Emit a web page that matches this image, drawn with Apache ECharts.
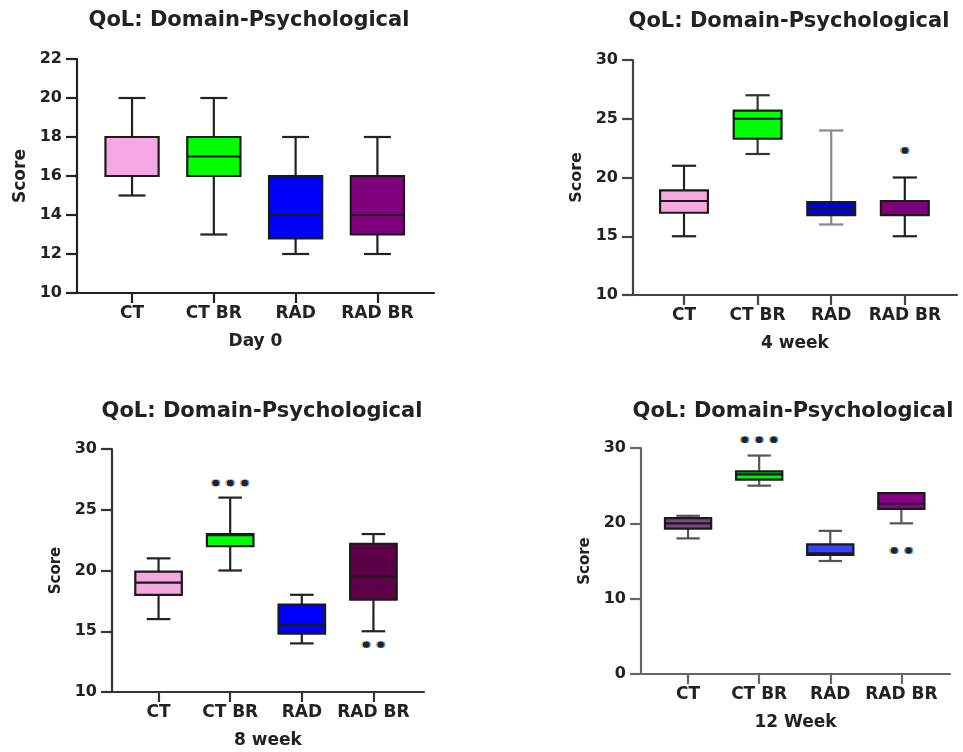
<!DOCTYPE html>
<html>
<head>
<meta charset="utf-8">
<script src="https://cdn.jsdelivr.net/npm/echarts@6/dist/echarts.min.js"></script>
<style>
  html, body { margin: 0; padding: 0; background: #fff; }
  #chart { width: 963px; height: 752px; }
</style>
</head>
<body>
<div id="chart"></div>
<script>
// Groups shown on every panel
const categories = ['CT', 'CT BR', 'RAD', 'RAD BR'];
const panelTitle = 'QoL: Domain-Psychological';
const timeLabels = ['Day 0', '4 week', '8 week', '12 Week'];

// Box summaries per group: [min, Q1, median, Q3, max]
const day0Boxes   = [[15, 16, 18, 18, 20], [13, 16, 17, 18, 20], [12, 12.8, 14, 16, 18], [12, 13, 14, 16, 18]];
const week4Boxes  = [[15, 17, 18, 18.9, 21], [22, 23.3, 25, 25.7, 27], [16, 16.8, 17.4, 17.9, 24], [15, 16.8, 18, 18, 20]];
const week8Boxes  = [[16, 18, 19, 19.9, 21], [20, 22, 22.9, 23, 26], [14, 14.8, 15.5, 17.2, 18], [15, 17.6, 19.5, 22.2, 23]];
const week12Boxes = [[18, 19.3, 20, 20.7, 21], [25, 25.8, 26.5, 26.9, 29], [15, 15.8, 16, 17.2, 19], [20, 21.9, 22.6, 24, 24]];

// Significance marks: [group index, score, number of dots]
const day0Marks   = [];
const week4Marks  = [[3, 22.3, 1]];
const week8Marks  = [[1, 27.2, 3], [3, 13.9, 2]];
const week12Marks = [[1, 31.1, 3], [3, 16.4, 2]];

// Score axis ranges: [min, max, interval]
const day0Range   = [10, 22, 2];
const week4Range  = [10, 30, 5];
const week8Range  = [10, 30, 5];
const week12Range = [0, 30, 10];

const FONT = 'DejaVu Sans';
const TEXT = '#222';

const panels = [
  {
    boxes: day0Boxes, marks: day0Marks, range: day0Range, name: timeLabels[0],
    grid: { left: 77, top: 59, width: 357, height: 234 },
    xMin: -0.673, xMax: 3.692,
    fills: ['#f5a8e4', '#00ff00', '#0000ff', '#800080'],
    whisker: ['#222', '#222', '#222', '#222'],
    axisColor: '#222', scoreSize: 17,
    title: [249, 21]
  },
  {
    boxes: week4Boxes, marks: week4Marks, range: week4Range, name: timeLabels[1],
    grid: { left: 633, top: 60, width: 324, height: 235 },
    xMin: -0.693, xMax: 3.709,
    fills: ['#f7a9e0', '#00ff00', '#0000ee', '#800078'],
    whisker: ['#222', '#333', '#888', '#222'],
    axisColor: '#444', scoreSize: 16,
    title: [789, 22]
  },
  {
    boxes: week8Boxes, marks: week8Marks, range: week8Range, name: timeLabels[2],
    grid: { left: 112, top: 449, width: 312, height: 243 },
    xMin: -0.65, xMax: 3.706,
    fills: ['#f5a8e0', '#00ff00', '#0000ff', '#5e0048'],
    whisker: ['#222', '#222', '#222', '#222'],
    axisColor: '#333', scoreSize: 15,
    title: [262, 412]
  },
  {
    boxes: week12Boxes, marks: week12Marks, range: week12Range, name: timeLabels[3],
    grid: { left: 641, top: 448, width: 309, height: 226 },
    xMin: -0.662, xMax: 3.684,
    fills: ['#784689', '#00ee00', '#3444ff', '#8a008a'],
    whisker: ['#555', '#555', '#555', '#555'],
    axisColor: '#666', scoreSize: 15,
    title: [793, 412]
  }
];

const BOX_W = 0.65;   // box width in group units
const CAP_W = 0.33;   // whisker cap width in group units

function boxRenderer(panel) {
  return function (params, api) {
    const x = api.value(0);
    const i = params.dataIndex;
    const pMin = api.coord([x, api.value(1)]);
    const pQ1 = api.coord([x, api.value(2)]);
    const pMed = api.coord([x, api.value(3)]);
    const pQ3 = api.coord([x, api.value(4)]);
    const pMax = api.coord([x, api.value(5)]);
    const half = api.size([BOX_W, 0])[0] / 2;
    const capHalf = api.size([CAP_W, 0])[0] / 2;
    const cx = pMed[0];
    const wStyle = { stroke: panel.whisker[i], lineWidth: 2.2, fill: null };
    return {
      type: 'group',
      children: [
        { type: 'line', shape: { x1: cx, y1: pMax[1], x2: cx, y2: pQ3[1] }, style: wStyle },
        { type: 'line', shape: { x1: cx, y1: pQ1[1], x2: cx, y2: pMin[1] }, style: wStyle },
        { type: 'line', shape: { x1: cx - capHalf, y1: pMax[1], x2: cx + capHalf, y2: pMax[1] }, style: wStyle },
        { type: 'line', shape: { x1: cx - capHalf, y1: pMin[1], x2: cx + capHalf, y2: pMin[1] }, style: wStyle },
        {
          type: 'rect',
          shape: { x: cx - half, y: pQ3[1], width: half * 2, height: pQ1[1] - pQ3[1] },
          style: { fill: panel.fills[i], stroke: '#1a1a1a', lineWidth: 2.2 }
        },
        { type: 'line', shape: { x1: cx - half, y1: pMed[1], x2: cx + half, y2: pMed[1] },
          style: { stroke: '#1a1a1a', lineWidth: 2.2 } }
      ]
    };
  };
}

function markRenderer(params, api) {
  const p = api.coord([api.value(0), api.value(1)]);
  const n = api.value(2);
  const gap = 14.5;
  const children = [];
  for (let k = 0; k < n; k++) {
    const cx = p[0] + (k - (n - 1) / 2) * gap;
    children.push(
      { type: 'circle', shape: { cx: cx - 1.3, cy: p[1], r: 3.4 }, style: { fill: '#f0a040' } },
      { type: 'circle', shape: { cx: cx + 1.3, cy: p[1], r: 3.4 }, style: { fill: '#4a9be8' } },
      { type: 'circle', shape: { cx: cx, cy: p[1], r: 3.2 }, style: { fill: '#16223f' } }
    );
  }
  return { type: 'group', children: children };
}

const option = {
  animation: false,
  backgroundColor: '#fff',
  textStyle: { fontFamily: FONT },
  grid: [], xAxis: [], yAxis: [], series: [],
  graphic: []
};

panels.forEach(function (panel, idx) {
  option.grid.push(Object.assign({ containLabel: false }, panel.grid));
  option.xAxis.push({
    type: 'value', gridIndex: idx, min: panel.xMin, max: panel.xMax,
    name: panel.name, nameLocation: 'middle', nameGap: 40,
    nameTextStyle: { fontFamily: FONT, fontWeight: 'bold', fontSize: 17, color: TEXT },
    axisLine: { show: true, onZero: false, lineStyle: { color: panel.axisColor, width: 2.2 } },
    axisTick: { show: true, customValues: [0, 1, 2, 3], length: 10, lineStyle: { color: panel.axisColor, width: 2.2 } },
    axisLabel: {
      customValues: [0, 1, 2, 3], margin: 12,
      formatter: function (v) { return categories[Math.round(v)]; },
      fontFamily: FONT, fontWeight: 'bold', fontSize: 17, color: TEXT
    },
    splitLine: { show: false }
  });
  option.yAxis.push({
    type: 'value', gridIndex: idx,
    min: panel.range[0], max: panel.range[1], interval: panel.range[2],
    name: 'Score', nameLocation: 'middle', nameGap: 48, nameRotate: 90,
    nameTextStyle: { fontFamily: FONT, fontWeight: 'bold', fontSize: panel.scoreSize, color: TEXT },
    axisLine: { show: true, onZero: false, lineStyle: { color: panel.axisColor, width: 2.2 } },
    axisTick: { show: true, length: 11, lineStyle: { color: panel.axisColor, width: 2.2 } },
    axisLabel: { margin: 15, fontFamily: FONT, fontWeight: 'bold', fontSize: 16, color: TEXT },
    splitLine: { show: false }
  });
  option.series.push({
    type: 'custom', xAxisIndex: idx, yAxisIndex: idx, clip: false,
    renderItem: boxRenderer(panel),
    encode: { x: 0, y: [1, 2, 3, 4, 5] },
    data: panel.boxes.map(function (b, i) { return [i].concat(b); })
  });
  option.series.push({
    type: 'custom', xAxisIndex: idx, yAxisIndex: idx, clip: false,
    renderItem: markRenderer,
    encode: { x: 0, y: 1 },
    data: panel.marks
  });
  option.graphic.push({
    type: 'text', x: panel.title[0], y: panel.title[1],
    style: {
      text: panelTitle, align: 'center', verticalAlign: 'middle',
      fontFamily: FONT, fontWeight: 'bold', fontSize: 21, fill: TEXT
    }
  });
});

const chart = echarts.init(document.getElementById('chart'), null, { renderer: 'canvas' });
chart.setOption(option);
</script>
</body>
</html>
